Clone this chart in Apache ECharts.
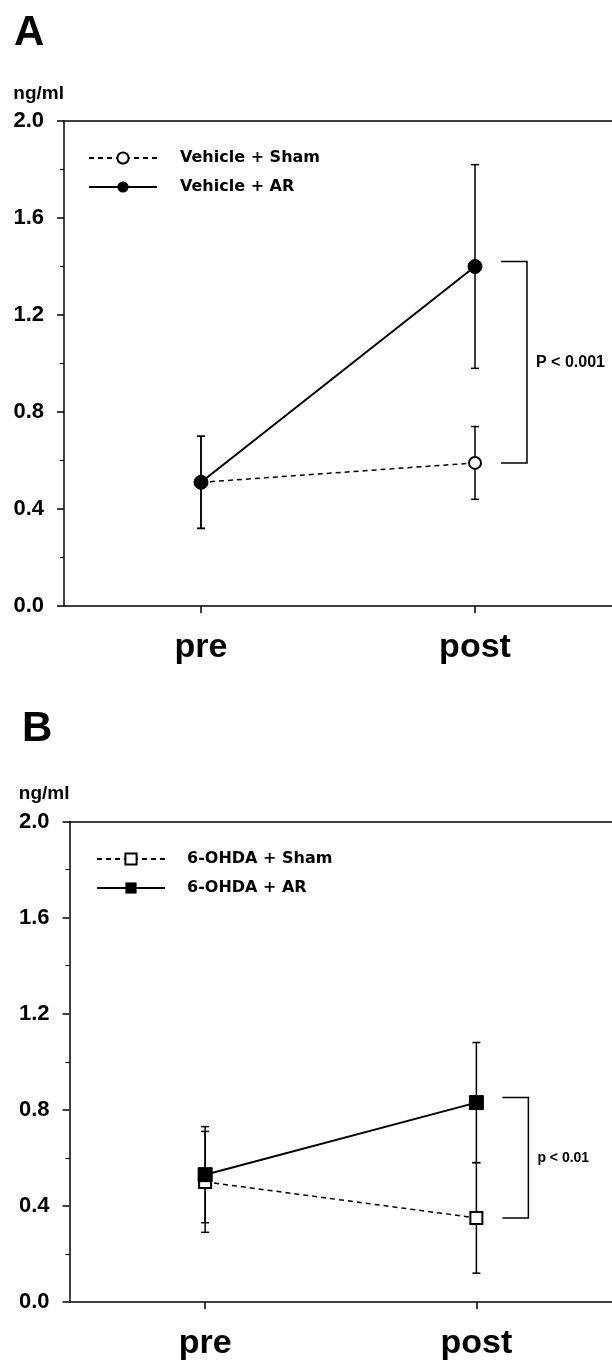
<!DOCTYPE html>
<html>
<head>
  <meta charset="utf-8">
  <title>ng/ml pre vs post</title>
  <style type="text/css">
    html, body, #main {
      height: 100%;
      width: 100%;
      margin: 0;
      padding: 0;
      background: #fff;
    }
  </style>
  <script src="https://cdn.jsdelivr.net/npm/echarts@6/dist/echarts.min.js"></script>
</head>
<body>
  <div id="main"></div>
  <script>
    // values
    var categories = ['pre', 'post'];
    var yTicks = [0, 0.4, 0.8, 1.2, 1.6, 2.0];

    var namesA = ['Vehicle + Sham', 'Vehicle + AR'];
    var shamA = [0.51, 0.59];
    var shamAErr = [0.19, 0.15];
    var arA = [0.51, 1.40];
    var arAErr = [0.19, 0.42];
    var pA = 'P < 0.001';

    var namesB = ['6-OHDA + Sham', '6-OHDA + AR'];
    var shamB = [0.50, 0.35];
    var shamBErr = [0.21, 0.23];
    var arB = [0.53, 0.83];
    var arBErr = [0.20, 0.25];
    var pB = 'p < 0.01';

    var FONT = 'Liberation Sans';
    var black = '#000';
    var axisLine = { show: true, lineStyle: { color: black, width: 1.5 } };

    function errRows(means, errs) {
      return means.map(function (m, i) { return [i, m - errs[i], m + errs[i]]; });
    }

    function renderErr(params, api) {
      var top = api.coord([api.value(0), api.value(2)]);
      var bot = api.coord([api.value(0), api.value(1)]);
      var w = 4;
      var st = { stroke: black, lineWidth: 1.5 };
      return {
        type: 'group',
        children: [
          { type: 'line', shape: { x1: top[0], y1: top[1], x2: bot[0], y2: bot[1] }, style: st },
          { type: 'line', shape: { x1: top[0] - w, y1: top[1], x2: top[0] + w, y2: top[1] }, style: st },
          { type: 'line', shape: { x1: bot[0] - w, y1: bot[1], x2: bot[0] + w, y2: bot[1] }, style: st }
        ]
      };
    }

    function bracketRender(fontSize, label) {
      return function (params, api) {
        var hi = api.coord([api.value(0), api.value(1)]);
        var lo = api.coord([api.value(0), api.value(2)]);
        var x0 = hi[0] + 26, x1 = hi[0] + 52;
        var y0 = hi[1] - 5, y1 = lo[1];
        return {
          type: 'group',
          children: [
            { type: 'polyline', shape: { points: [[x0, y0], [x1, y0], [x1, y1], [x0, y1]] },
              style: { stroke: black, lineWidth: 1.5, fill: null } },
            { type: 'text', x: x1 + 9, y: (y0 + y1) / 2,
              style: { text: label, fill: black, font: 'bold ' + fontSize + 'px "' + FONT + '"',
                       align: 'left', verticalAlign: 'middle' } }
          ]
        };
      };
    }

    function xAxes(grid) {
      return [
        { gridIndex: grid, type: 'category', data: categories, position: 'bottom',
          axisLine: axisLine,
          axisTick: { show: true, alignWithLabel: true, length: 7, lineStyle: { color: black, width: 1.5 } },
          axisLabel: { margin: 25, fontSize: 34, fontWeight: 'bold', fontFamily: FONT, color: black } },
        { gridIndex: grid, type: 'category', data: categories, position: 'top',
          axisLine: axisLine, axisTick: { show: false }, axisLabel: { show: false } }
      ];
    }

    function yAxis(grid) {
      return {
        gridIndex: grid, type: 'value', min: yTicks[0], max: yTicks[yTicks.length - 1],
        interval: yTicks[1] - yTicks[0],
        name: 'ng/ml', nameLocation: 'end', nameGap: 18,
        nameTextStyle: { align: 'right', fontSize: 19, fontWeight: 'bold', fontFamily: FONT, color: black },
        axisLine: axisLine,
        axisTick: { show: true, length: 7, lineStyle: { color: black, width: 1.5 } },
        minorTick: { show: true, splitNumber: 2, length: 4, lineStyle: { color: black, width: 1.2 } },
        splitLine: { show: false },
        axisLabel: { margin: 20, fontSize: 22, fontWeight: 'bold', fontFamily: FONT, color: black,
                     formatter: function (v) { return v.toFixed(1); } }
      };
    }

    function panelSeries(grid, names, sham, shamErr, ar, arErr, symSham, symAr, pLabel, pSize) {
      var xi = grid * 2;
      return [
        { type: 'custom', xAxisIndex: xi, yAxisIndex: grid, renderItem: renderErr,
          data: errRows(sham, shamErr), encode: { x: 0, y: [1, 2] }, silent: true },
        { type: 'custom', xAxisIndex: xi, yAxisIndex: grid, renderItem: renderErr,
          data: errRows(ar, arErr), encode: { x: 0, y: [1, 2] }, silent: true },
        { name: names[0], type: 'line', xAxisIndex: xi, yAxisIndex: grid, data: sham,
          symbol: symSham, symbolSize: 12, showAllSymbol: true,
          lineStyle: { color: black, width: 1.5, type: [5, 4] },
          itemStyle: { color: black, borderColor: black, borderWidth: 1.5 } },
        { name: names[1], type: 'line', xAxisIndex: xi, yAxisIndex: grid, data: ar,
          symbol: symAr, symbolSize: 14,
          lineStyle: { color: black, width: 2 },
          itemStyle: { color: black, borderColor: black } },
        { type: 'custom', xAxisIndex: xi, yAxisIndex: grid,
          renderItem: bracketRender(pSize, pLabel),
          data: [[1, ar[1], sham[1]]], encode: { x: 0, y: [1, 2] }, silent: true }
      ];
    }

    function legend(names, left, top, textPad) {
      return {
        data: names, orient: 'vertical', left: left, top: top, padding: 0,
        itemWidth: 68, itemHeight: 14, itemGap: 13,
        textStyle: { fontFamily: 'DejaVu Sans', fontWeight: 'bold', fontSize: 16, color: black,
                     padding: [0, 0, 0, textPad] },
        selectedMode: false
      };
    }

    var chart = echarts.init(document.getElementById('main'), null, { renderer: 'canvas' });
    chart.setOption({
      backgroundColor: '#fff',
      animation: false,
      title: [
        { text: 'A', left: 14, top: 12, padding: 0,
          textStyle: { fontSize: 42, fontWeight: 'bold', fontFamily: FONT, color: black } },
        { text: 'B', left: 22, top: 708, padding: 0,
          textStyle: { fontSize: 42, fontWeight: 'bold', fontFamily: FONT, color: black } }
      ],
      legend: [
        legend(namesA, 88, 150, 18),
        legend(namesB, 96, 851, 17)
      ],
      grid: [
        { left: 64, top: 121, width: 548, height: 485 },
        { left: 69.5, top: 821.5, width: 544, height: 483 }
      ],
      xAxis: xAxes(0).concat(xAxes(1)),
      yAxis: [yAxis(0), yAxis(1)],
      series: panelSeries(0, namesA, shamA, shamAErr, arA, arAErr, 'emptyCircle', 'circle', pA, 16)
        .concat(panelSeries(1, namesB, shamB, shamBErr, arB, arBErr, 'emptyRect', 'rect', pB, 14))
    });
  </script>
</body>
</html>
